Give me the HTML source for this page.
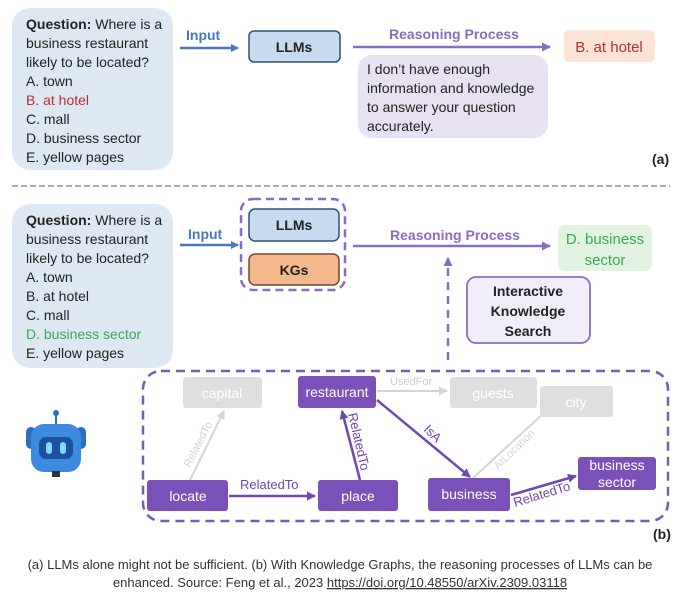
<!DOCTYPE html>
<html><head><meta charset="utf-8"><style>
body{margin:0;background:#fff;width:680px;height:593px;overflow:hidden}
svg text{font-family:"Liberation Sans",sans-serif}
</style></head><body>
<svg width="680" height="593" viewBox="0 0 680 593" xmlns="http://www.w3.org/2000/svg">
<defs>
<marker id="ab" markerWidth="8" markerHeight="8" refX="7" refY="4" orient="auto" markerUnits="userSpaceOnUse"><path d="M0,0L8,4L0,8z" fill="#4a78c0"/></marker>
<marker id="ap" markerWidth="9" markerHeight="9" refX="8" refY="4.5" orient="auto" markerUnits="userSpaceOnUse"><path d="M0,0L9,4.5L0,9z" fill="#8a6cc0"/></marker>
<marker id="ad" markerWidth="9" markerHeight="9" refX="8" refY="4.5" orient="auto" markerUnits="userSpaceOnUse"><path d="M0,0L9,4.5L0,9z" fill="#7048b0"/></marker>
<marker id="ag" markerWidth="9" markerHeight="9" refX="8" refY="4.5" orient="auto" markerUnits="userSpaceOnUse"><path d="M0,0L9,4.5L0,9z" fill="#d4d4d4"/></marker>
</defs>
<g font-size="14" fill="#222">
<rect x="12" y="8" width="161" height="162" rx="18" fill="#dde8f3"/>
<text x="26" y="29"><tspan font-weight="bold">Question:</tspan> Where is a</text>
<text x="26" y="48">business restaurant</text>
<text x="26" y="67">likely to be located?</text>
<text x="26" y="86">A.  town</text>
<text x="26" y="105" fill="#b83030">B.  at hotel</text>
<text x="26" y="124">C.  mall</text>
<text x="26" y="143">D.  business sector</text>
<text x="26" y="162">E.  yellow pages</text>
<text x="186" y="40" fill="#4a78c0" font-weight="bold">Input</text>
<line x1="180" y1="48" x2="238" y2="48" stroke="#4a78c0" stroke-width="2.5" marker-end="url(#ab)"/>
<rect x="249" y="31" width="91" height="31" rx="5" fill="#c6dbf0" stroke="#33506e" stroke-width="1.5"/>
<text x="294" y="52" text-anchor="middle" font-weight="bold">LLMs</text>
<text x="454" y="39" fill="#8a6cc0" font-weight="bold" text-anchor="middle">Reasoning Process</text>
<line x1="353" y1="47" x2="550" y2="47" stroke="#8a6cc0" stroke-width="2.5" marker-end="url(#ap)"/>
<rect x="564" y="30" width="91" height="32" rx="5" fill="#fbe4d6"/>
<text x="609" y="52" text-anchor="middle" fill="#b83030" font-size="15">B. at hotel</text>
<rect x="358" y="55" width="190" height="83" rx="14" fill="#e7e1f1"/>
<text x="367" y="74">I don’t have enough</text>
<text x="367" y="93">information and knowledge</text>
<text x="367" y="112">to answer your question</text>
<text x="367" y="131">accurately.</text>
<text x="652" y="164" font-weight="bold">(a)</text>
<line x1="12" y1="186" x2="670" y2="186" stroke="#aaa" stroke-width="2" stroke-dasharray="6,3"/>

<rect x="12" y="204" width="161" height="164" rx="18" fill="#dde8f3"/>
<text x="26" y="225"><tspan font-weight="bold">Question:</tspan> Where is a</text>
<text x="26" y="244">business restaurant</text>
<text x="26" y="263">likely to be located?</text>
<text x="26" y="282">A.  town</text>
<text x="26" y="301">B.  at hotel</text>
<text x="26" y="320">C.  mall</text>
<text x="26" y="339" fill="#3aa85a">D.  business sector</text>
<text x="26" y="358">E.  yellow pages</text>
<text x="188" y="239" fill="#4a78c0" font-weight="bold">Input</text>
<line x1="180" y1="245" x2="238" y2="245" stroke="#4a78c0" stroke-width="2.5" marker-end="url(#ab)"/>
<rect x="241" y="199" width="104" height="91" rx="12" fill="none" stroke="#8a6cc0" stroke-width="2.5" stroke-dasharray="8,5"/>
<rect x="249" y="209" width="90" height="32" rx="6" fill="#c6dbf0" stroke="#33506e" stroke-width="1.5"/>
<text x="294" y="230" text-anchor="middle" font-weight="bold">LLMs</text>
<rect x="249" y="254" width="90" height="31" rx="6" fill="#f3b98c" stroke="#6d4a30" stroke-width="1.5"/>
<text x="294" y="275" text-anchor="middle" font-weight="bold">KGs</text>
<text x="455" y="240" fill="#8a6cc0" font-weight="bold" text-anchor="middle">Reasoning Process</text>
<line x1="353" y1="246" x2="550" y2="246" stroke="#8a6cc0" stroke-width="2.5" marker-end="url(#ap)"/>
<rect x="558" y="225" width="94" height="46" rx="7" fill="#e2f2e0"/>
<text x="605" y="244" text-anchor="middle" fill="#3aa85a" font-size="15">D. business</text>
<text x="605" y="265" text-anchor="middle" fill="#3aa85a" font-size="15">sector</text>
<line x1="448" y1="360" x2="448" y2="258" stroke="#8a6cc0" stroke-width="2.5" stroke-dasharray="8,6" marker-end="url(#ap)"/>
<rect x="467" y="277" width="123" height="66" rx="9" fill="#f2eef9" stroke="#8a6cc0" stroke-width="1.8"/>
<text x="528" y="296" text-anchor="middle" font-weight="bold">Interactive</text>
<text x="528" y="316" text-anchor="middle" font-weight="bold">Knowledge</text>
<text x="528" y="336" text-anchor="middle" font-weight="bold">Search</text>

<rect x="143" y="371" width="525" height="150" rx="18" fill="none" stroke="#7a5ab8" stroke-width="2.5" stroke-dasharray="9,6"/>
<line x1="190" y1="480" x2="224" y2="411" stroke="#d4d4d4" stroke-width="2" marker-end="url(#ag)"/>
<text transform="translate(190,468) rotate(-63)" font-size="11" fill="#d0d0d0">RelatedTo</text>
<line x1="377" y1="391" x2="447" y2="391" stroke="#d4d4d4" stroke-width="2" marker-end="url(#ag)"/>
<text x="390" y="385" font-size="11" fill="#cfcfcf">UsedFor</text>
<line x1="473" y1="478" x2="556" y2="402" stroke="#d4d4d4" stroke-width="2" marker-end="url(#ag)"/>
<text transform="translate(498,470) rotate(-44)" font-size="11" fill="#d4d4d4">AtLocation</text>
<line x1="229" y1="496" x2="315" y2="496" stroke="#7048b0" stroke-width="2.5" marker-end="url(#ad)"/>
<text x="240" y="489" font-size="13" fill="#7048b0">RelatedTo</text>
<line x1="360" y1="480" x2="342" y2="411" stroke="#7048b0" stroke-width="2.5" marker-end="url(#ad)"/>
<text transform="translate(348,414) rotate(77)" font-size="13" fill="#7048b0">RelatedTo</text>
<line x1="377" y1="400" x2="470" y2="477" stroke="#7048b0" stroke-width="2.5" marker-end="url(#ad)"/>
<text transform="translate(423,430) rotate(45)" font-size="13" fill="#7048b0">IsA</text>
<line x1="511" y1="495" x2="576" y2="476" stroke="#7048b0" stroke-width="2.5" marker-end="url(#ad)"/>
<text transform="translate(515,507) rotate(-17)" font-size="13" fill="#7048b0">RelatedTo</text>
<g font-size="14" text-anchor="middle">
<rect x="183" y="377" width="79" height="31" rx="3" fill="#dedede"/><text x="222" y="398" fill="#fff">capital</text>
<rect x="298" y="376" width="78" height="32" rx="3" fill="#7b50b8"/><text x="337" y="397" fill="#fff">restaurant</text>
<rect x="450" y="377" width="87" height="31" rx="3" fill="#dedede"/><text x="493" y="398" fill="#fff">guests</text>
<rect x="540" y="386" width="73" height="31" rx="3" fill="#dedede"/><text x="576" y="407" fill="#fff">city</text>
<rect x="147" y="480" width="81" height="31" rx="3" fill="#7b50b8"/><text x="188" y="501" fill="#fff">locate</text>
<rect x="318" y="480" width="80" height="31" rx="3" fill="#7b50b8"/><text x="358" y="501" fill="#fff">place</text>
<rect x="428" y="478" width="82" height="33" rx="3" fill="#7b50b8"/><text x="469" y="499" fill="#fff">business</text>
<rect x="578" y="457" width="78" height="33" rx="3" fill="#7b50b8"/><text x="617" y="470" fill="#fff">business</text><text x="617" y="487" fill="#fff">sector</text>
</g>
<line x1="56" y1="414" x2="56" y2="426" stroke="#2a6fc0" stroke-width="2"/>
<circle cx="56" cy="413" r="3" fill="#2a6fc0"/>
<rect x="26" y="427" width="10" height="22" rx="5" fill="#2a6fc0"/>
<rect x="76" y="427" width="10" height="22" rx="5" fill="#2a6fc0"/>
<rect x="31" y="424" width="50" height="48" rx="13" fill="#3b8ae0"/>
<rect x="39" y="437" width="34" height="22" rx="7" fill="#1c4f9c"/>
<rect x="46" y="442" width="6" height="12" rx="3" fill="#7fd6ff"/>
<rect x="60" y="442" width="6" height="12" rx="3" fill="#7fd6ff"/>
<rect x="52" y="471" width="8" height="6" fill="#333"/>
<text x="653" y="539" font-weight="bold">(b)</text>
</g>
<g font-size="13" fill="#333" text-anchor="middle">
<text x="340" y="569">(a) LLMs alone might not be sufficient. (b) With Knowledge Graphs, the reasoning processes of LLMs can be</text>
<text x="340" y="587">enhanced. Source: Feng et al., 2023 <tspan text-decoration="underline">https://doi.org/10.48550/arXiv.2309.03118</tspan></text>
</g>
</svg>
</body></html>
